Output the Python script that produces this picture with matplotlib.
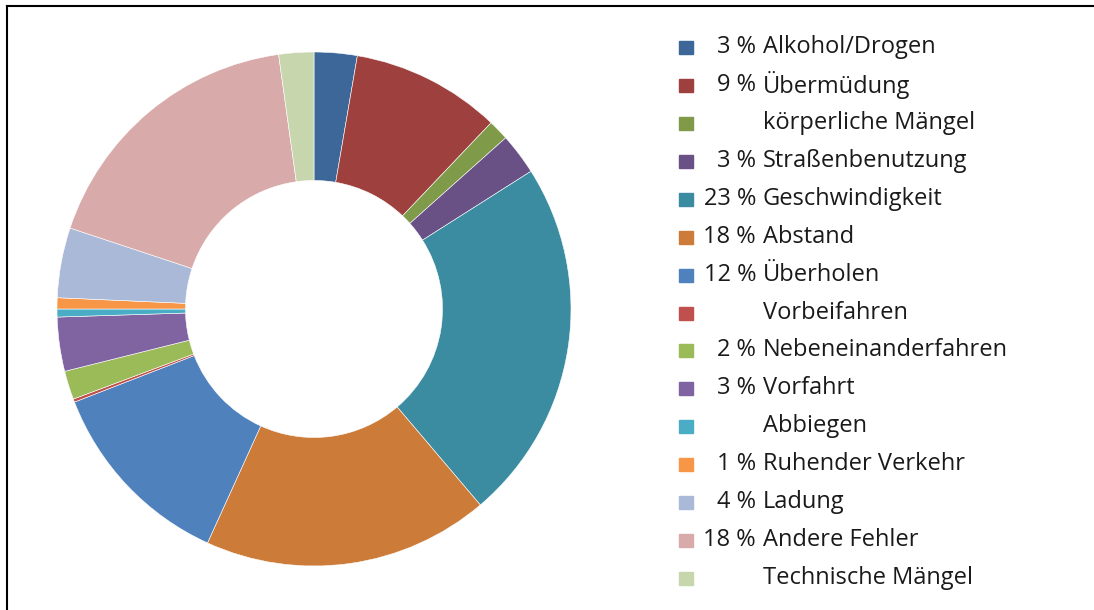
import matplotlib.pyplot as plt
from matplotlib.patches import Rectangle
from matplotlib.lines import Line2D

# Daten (Anteile in %, aus dem Bild geschätzt)
ursachen = ['Alkohol/Drogen', 'Übermüdung', 'körperliche Mängel', 'Straßenbenutzung',
            'Geschwindigkeit', 'Abstand', 'Überholen', 'Vorbeifahren',
            'Nebeneinanderfahren', 'Vorfahrt', 'Abbiegen', 'Ruhender Verkehr',
            'Ladung', 'Andere Fehler', 'Technische Mängel']
anteile = [2.7, 9.4, 1.3, 2.6, 22.8, 18.0, 12.3, 0.2, 1.8, 3.4, 0.5, 0.7, 4.4, 17.7, 2.2]
prozent_text = ['3 %', '9 %', '', '3 %', '23 %', '18 %', '12 %', '', '2 %', '3 %',
                '', '1 %', '4 %', '18 %', '']
farben = ['#3C6798', '#9E413E', '#7F9A48', '#695185', '#3B8BA1', '#CC7B38',
          '#4F81BD', '#C0504D', '#9BBB59', '#8064A2', '#4BACC6', '#F79646',
          '#AAB9D7', '#D9AAAA', '#C8D6AE']

plt.rcParams['font.family'] = ['Open Sans', 'DejaVu Sans']

W, H = 1094, 610
fig = plt.figure(figsize=(W / 100, H / 100), dpi=100)

# Donut
cx, cy, r = 314, 309, 257
ax = fig.add_axes([(cx - r) / W, (H - cy - r) / H, 2 * r / W, 2 * r / H])
ax.pie(anteile, colors=farben, startangle=90, counterclock=False, radius=1,
       wedgeprops=dict(width=0.5, edgecolor='white', linewidth=0.4))
ax.set_xlim(-1, 1)
ax.set_ylim(-1, 1)
ax.set_aspect('equal')
ax.axis('off')

# Legende (manuell, damit die Prozentzahlen rechtsbündig stehen)
y0, dy = 47, 37.93
for i, (name, pct, col) in enumerate(zip(ursachen, prozent_text, farben)):
    y = y0 + i * dy
    fig.patches.append(Rectangle((679 / W, 1 - (y + 7) / H), 14 / W, 13 / H,
                                 transform=fig.transFigure, color=col))
    if pct:
        fig.text(756 / W, 1 - y / H, pct, ha='right', va='center', fontsize=17, color='#1a1a1a')
    fig.text(763 / W, 1 - y / H, name, ha='left', va='center', fontsize=17, color='#1a1a1a')

# Rahmen (nur oben und links sichtbar)
fig.add_artist(Line2D([6.5 / W, 6.5 / W], [0, 1 - 5.5 / H], transform=fig.transFigure,
                      color='black', linewidth=1.5))
fig.add_artist(Line2D([6.5 / W, 1], [1 - 5.5 / H, 1 - 5.5 / H], transform=fig.transFigure,
                      color='black', linewidth=1.5))

plt.savefig('out.png', dpi=100)
plt.close()
